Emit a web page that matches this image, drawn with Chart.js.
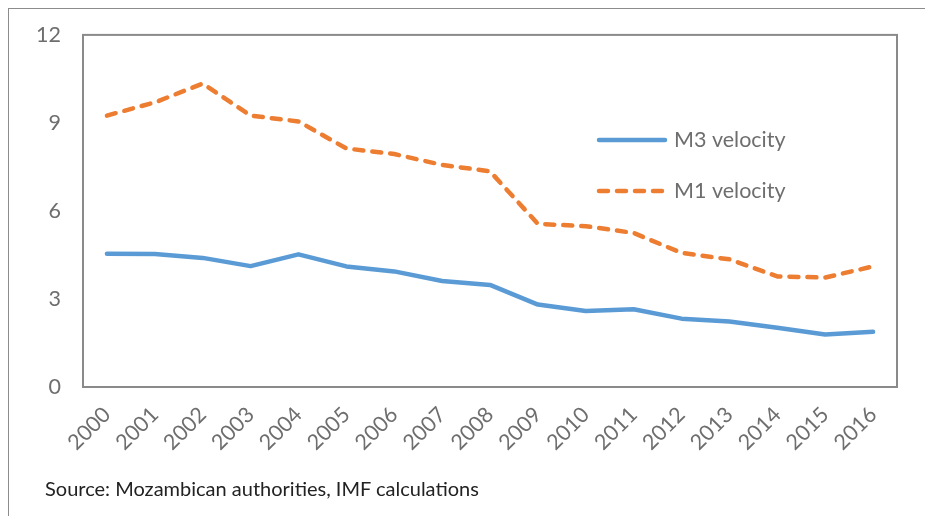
<!DOCTYPE html>
<html>
<head>
<meta charset="utf-8">
<script src="https://cdn.jsdelivr.net/npm/chart.js@4"></script>
<style>
  html, body { margin:0; padding:0; background:#fff; }
  #wrap { position:relative; width:925px; height:516px; overflow:hidden; }
  #frame { position:absolute; left:8px; top:8px; width:940px; height:540px; border:1.5px solid #8c8c8c; box-sizing:border-box; }
  #c { position:absolute; left:0; top:0; }
  #src { position:absolute; left:45px; top:476px; font-family:Lato, "Open Sans", sans-serif; font-size:20px; color:#222; white-space:nowrap; }
</style>
</head>
<body>
<div id="wrap">
  <div id="frame"></div>
  <canvas id="c" width="925" height="516"></canvas>
  <div id="src">Source: Mozambican authorities, IMF calculations</div>
</div>
<script>
const years = ['2000','2001','2002','2003','2004','2005','2006','2007','2008','2009','2010','2011','2012','2013','2014','2015','2016'];
const m3Velocity = [4.54,4.53,4.40,4.12,4.52,4.11,3.94,3.61,3.48,2.81,2.59,2.65,2.33,2.23,2.02,1.79,1.88];
const m1Velocity = [9.25,9.70,10.34,9.25,9.05,8.13,7.94,7.57,7.35,5.56,5.48,5.25,4.57,4.35,3.77,3.73,4.11];
const yTicks = [0,3,6,9,12];
const seriesNames = ['M3 velocity','M1 velocity'];

const FONT = 'Lato, "Open Sans", sans-serif';
const GRAY = '#6e6e6e';

const legendPlugin = {
  id: 'insideLegend',
  afterDatasetsDraw(chart) {
    const ctx = chart.ctx;
    const rows = [{y:140},{y:191}];
    chart.data.datasets.forEach((ds, i) => {
      const y = rows[i].y;
      ctx.save();
      ctx.strokeStyle = ds.borderColor;
      ctx.lineWidth = ds.borderWidth;
      ctx.lineCap = 'round';
      ctx.setLineDash(ds.borderDash || []);
      ctx.beginPath();
      ctx.moveTo(599, y);
      ctx.lineTo(665, y);
      ctx.stroke();
      ctx.setLineDash([]);
      ctx.fillStyle = GRAY;
      ctx.font = '21.5px ' + FONT;
      ctx.textBaseline = 'middle';
      ctx.textAlign = 'left';
      ctx.fillText(ds.label, 674, y);
      ctx.restore();
    });
  }
};

const borderPlugin = {
  id: 'plotBorder',
  beforeDatasetsDraw(chart) {
    const a = chart.chartArea, ctx = chart.ctx;
    ctx.save();
    ctx.strokeStyle = '#8a8a8a';
    ctx.lineWidth = 2;
    ctx.strokeRect(a.left, a.top, a.right - a.left, a.bottom - a.top);
    ctx.restore();
  }
};

new Chart(document.getElementById('c'), {
  type: 'line',
  data: {
    labels: years,
    datasets: [
      { label: seriesNames[0], data: m3Velocity, borderColor:'#5b9bd5', backgroundColor:'#5b9bd5', borderWidth:4.5, pointRadius:0, tension:0, borderCapStyle:'round', borderJoinStyle:'round' },
      { label: seriesNames[1], data: m1Velocity, borderColor:'#ed7d31', backgroundColor:'#ed7d31', borderWidth:4.5, pointRadius:0, tension:0, borderDash:[9,9], borderCapStyle:'round', borderJoinStyle:'round' }
    ]
  },
  options: {
    responsive:false,
    animation:false,
    devicePixelRatio:1,
    layout:{ padding:{ left:0, top:34, right:28, bottom:0 } },
    plugins:{ legend:{display:false}, tooltip:{enabled:false}, title:{display:false} },
    scales:{
      x:{
        type:'category',
        offset:true,
        grid:{ display:false, drawTicks:false },
        border:{ display:false },
        ticks:{ color:GRAY, font:{ family:FONT, size:21.5 }, maxRotation:45, minRotation:45, padding:15, autoSkip:false },
        afterFit(s){ s.height = 129; }
      },
      y:{
        min:0, max:12,
        grid:{ display:false, drawTicks:false },
        border:{ display:false },
        afterBuildTicks(s){ s.ticks = yTicks.map(v => ({value:v})); },
        ticks:{ color:GRAY, font:{ family:FONT, size:21.5 }, padding:22 },
        afterFit(s){ s.width = 83; }
      }
    }
  },
  plugins:[borderPlugin, legendPlugin]
});
</script>
</body>
</html>
